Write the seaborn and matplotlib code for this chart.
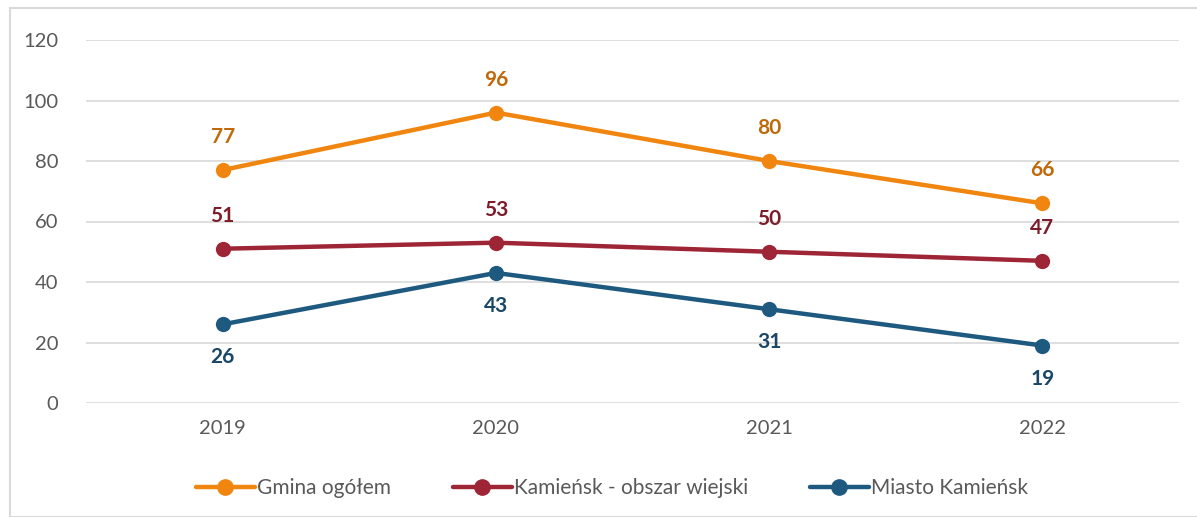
import numpy as np
import pandas as pd
import matplotlib.pyplot as plt
import seaborn as sns
from matplotlib.patches import Rectangle

# Data
years = ['2019', '2020', '2021', '2022']
gmina = [77, 96, 80, 66]
wies = [51, 53, 50, 47]
miasto = [26, 43, 31, 19]
series_names = ['Gmina ogółem', 'Kamieńsk - obszar wiejski', 'Miasto Kamieńsk']

line_colors = ['#F0860F', '#9E2536', '#1E5A80']
label_colors = ['#C0690B', '#7D1D2B', '#1A4767']

df = pd.DataFrame({
    'rok': years * 3,
    'wartosc': gmina + wies + miasto,
    'seria': [s for s in series_names for _ in years],
})

sns.set_theme(style='white')
plt.rcParams['font.family'] = ['Lato', 'DejaVu Sans']

fig = plt.figure(figsize=(11.97, 5.17), dpi=100)
ax = fig.add_axes([86 / 1197, 114 / 517, (1179 - 86) / 1197, (477 - 114) / 517])

sns.lineplot(data=df, x='rok', y='wartosc', hue='seria', palette=line_colors,
             marker='o', markersize=11, markeredgewidth=0, linewidth=3.2,
             sort=False, ax=ax, legend=False)

ax.set_ylim(0, 120)
ax.set_xlim(-0.5, 3.5)
ax.set_yticks(range(0, 121, 20))
ax.yaxis.grid(True, color='#D9D9D9', linewidth=1.2)
ax.set_axisbelow(True)
for s in ax.spines.values():
    s.set_visible(False)
ax.set_xlabel('')
ax.set_ylabel('')
ax.tick_params(axis='both', length=0, labelsize=14.5, labelcolor='#595959')
ax.tick_params(axis='y', pad=20)
ax.tick_params(axis='x', pad=12)

# data labels: orange and red above, blue below
signs = [1, 1, -1]
for vals, lc, sign in zip([gmina, wies, miasto], label_colors, signs):
    for i, v in enumerate(vals):
        ax.annotate(str(v), (i, v), xytext=(0, 33 * sign), textcoords='offset pixels',
                    ha='center', va='center', fontsize=15, fontweight='bold', color=lc)

# legend
handles = [plt.Line2D([], [], color=c, marker='o', markersize=11, linewidth=3.2) for c in line_colors]
leg = fig.legend(handles, series_names, loc='center', bbox_to_anchor=(612 / 1197, 1 - 488 / 517),
                 ncol=3, frameon=False, fontsize=15, handlelength=2.8, handletextpad=0.1,
                 columnspacing=3.0)
for t in leg.get_texts():
    t.set_color('#595959')

# chart frame
fig.patches.append(Rectangle((10 / 1197, 0), 1.2, 1 - 8 / 517, transform=fig.transFigure,
                             fill=False, edgecolor='#D9D9D9', linewidth=1.5))

fig.savefig('out.png', dpi=100)
